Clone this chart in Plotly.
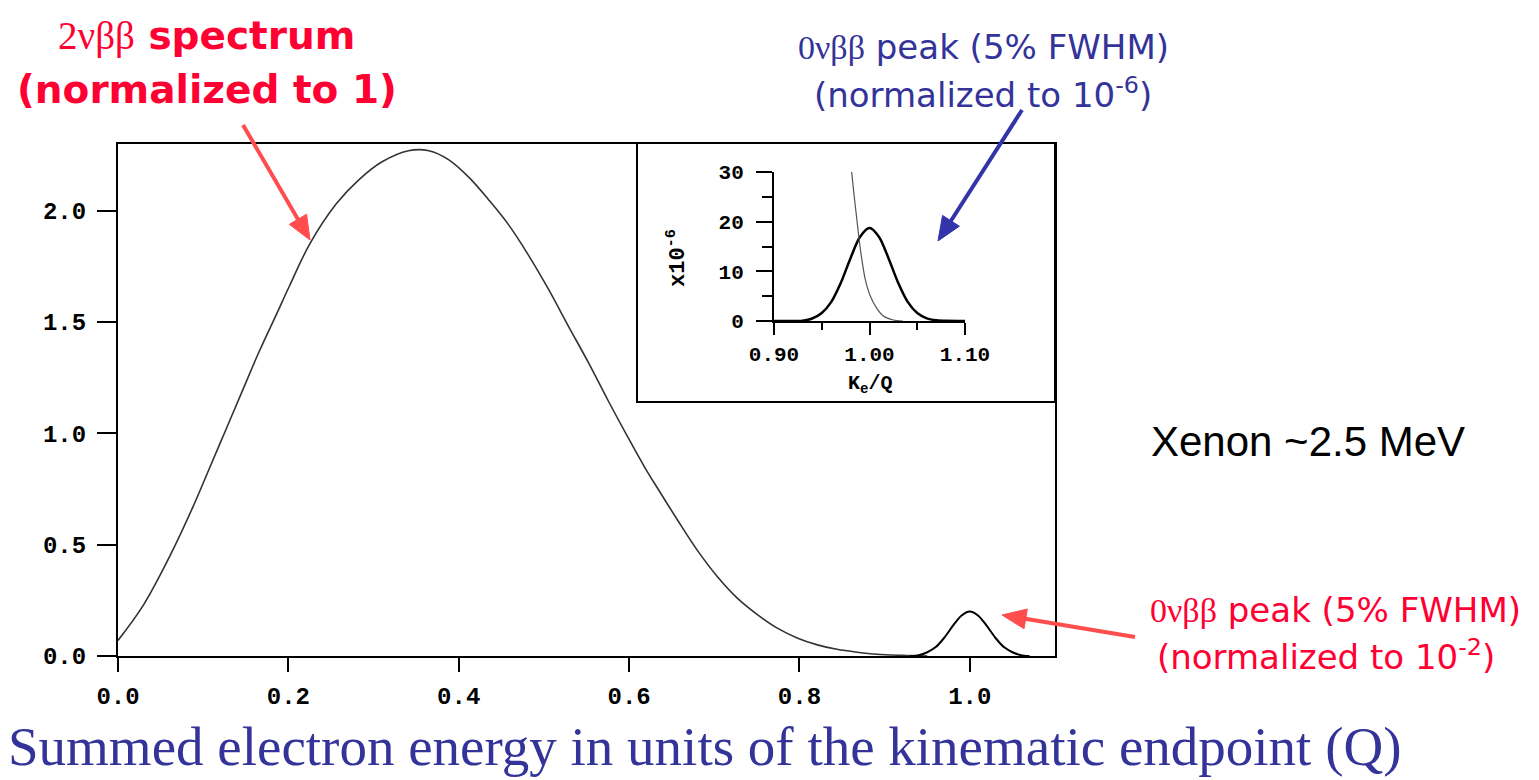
import math
import plotly.graph_objects as go

# page body has an 8px default margin; the figure is sized/placed to compensate
OFF = 8
W, H = 1539 - OFF, 780 - OFF

# ---------------- data ----------------
spec_x = [0.0, 0.03, 0.061, 0.088, 0.107, 0.127, 0.147, 0.166, 0.186, 0.201, 0.225, 0.256,
          0.283, 0.31, 0.341, 0.365, 0.388, 0.412, 0.435, 0.458, 0.482, 0.505, 0.529, 0.552,
          0.575, 0.599, 0.618, 0.634, 0.657, 0.681, 0.704, 0.727, 0.751, 0.774, 0.798, 0.821,
          0.844, 0.868, 0.891, 0.92, 0.95]
spec_y = [0.07, 0.23, 0.45, 0.67, 0.84, 1.02, 1.20, 1.37, 1.535, 1.66, 1.85, 2.03,
          2.14, 2.22, 2.27, 2.27, 2.23, 2.15, 2.05, 1.94, 1.80, 1.65, 1.48, 1.32,
          1.15, 0.98, 0.85, 0.75, 0.61, 0.47, 0.355, 0.26, 0.185, 0.125, 0.08, 0.05,
          0.03, 0.017, 0.008, 0.003, 0.0]

peak_x = [0.93, 0.94, 0.95, 0.96, 0.97, 0.98, 0.99, 1.00, 1.01, 1.02, 1.03, 1.04, 1.05, 1.06, 1.07]
peak_y = [0.0, 0.004, 0.017, 0.04, 0.082, 0.135, 0.181, 0.20, 0.181, 0.135, 0.082, 0.04, 0.017, 0.004, 0.0]

inset_peak_x = [0.90, 0.92, 0.93, 0.94, 0.95, 0.96, 0.97, 0.98, 0.99, 1.00, 1.01, 1.02, 1.03,
                1.04, 1.05, 1.06, 1.07, 1.08, 1.10]
inset_peak_y = [0.0, 0.01, 0.05, 0.5, 1.6, 3.85, 7.7, 12.6, 16.9, 18.7, 16.9, 12.6, 7.7,
                3.85, 1.6, 0.53, 0.15, 0.03, 0.0]

inset_tail_x = [0.9813, 0.9838, 0.9866, 0.9894, 0.9918, 0.9953, 1.0005, 1.0075, 1.0145, 1.025, 1.035]
inset_tail_y = [30.0, 25.4, 20.7, 16.0, 12.6, 8.6, 5.2, 2.6, 1.0, 0.2, 0.0]

main_xticks = [0.0, 0.2, 0.4, 0.6, 0.8, 1.0]
main_yticks = [0.0, 0.5, 1.0, 1.5, 2.0]
inset_xticks = [0.90, 1.00, 1.10]
inset_xticktext = ["0.90", "1.00", "1.10"]
inset_yticks = [0, 10, 20, 30]


def px(x):
    return (x - OFF) / W


def py(y):
    return 1 - (y - OFF) / H


RED = "#ff0033"
RED_ARROW = "#ff4d4d"
BLUE = "#333399"
TICKFONT = dict(family="Liberation Mono", size=24, color="black", weight="bold")
INSET_TICKFONT = dict(family="Liberation Mono", size=21, color="black", weight="bold")

fig = go.Figure()

fig.add_trace(go.Scatter(x=spec_x, y=spec_y, mode="lines",
                         line=dict(color="#333333", width=1.6, shape="spline", smoothing=1.0),
                         xaxis="x", yaxis="y", showlegend=False))
fig.add_trace(go.Scatter(x=peak_x, y=peak_y, mode="lines",
                         line=dict(color="black", width=2, shape="spline", smoothing=0.8),
                         xaxis="x", yaxis="y", showlegend=False))
fig.add_trace(go.Scatter(x=inset_peak_x, y=inset_peak_y, mode="lines",
                         line=dict(color="black", width=2.5, shape="spline", smoothing=0.8),
                         xaxis="x2", yaxis="y2", showlegend=False))
fig.add_trace(go.Scatter(x=inset_tail_x, y=inset_tail_y, mode="lines",
                         line=dict(color="#555555", width=1.2, shape="spline", smoothing=0.6),
                         xaxis="x2", yaxis="y2", showlegend=False))

fig.update_layout(
    width=W, height=H,
    margin=dict(l=0, r=0, t=0, b=0, autoexpand=False),
    paper_bgcolor="white", plot_bgcolor="white",
    xaxis=dict(domain=[px(118), px(1055)], range=[0, 1.1], showgrid=False, zeroline=False,
               automargin=False,
               showline=True, linecolor="black", linewidth=2, mirror=True,
               ticks="outside", ticklen=14, tickwidth=2, tickcolor="black",
               tickvals=main_xticks, tickformat=".1f", tickfont=TICKFONT, ticklabelstandoff=3),
    yaxis=dict(domain=[py(656), py(144)], range=[0, 2.3], showgrid=False, zeroline=False,
               automargin=False,
               showline=True, linecolor="black", linewidth=2, mirror=True,
               ticks="outside", ticklen=19, tickwidth=2, tickcolor="black",
               tickvals=main_yticks, tickformat=".1f", tickfont=TICKFONT, ticklabelstandoff=6),
    xaxis2=dict(domain=[px(774), px(965)], range=[0.90, 1.10], anchor="y2", showgrid=False, zeroline=False,
                automargin=False,
                showline=True, linecolor="black", linewidth=2,
                ticks="outside", ticklen=12, tickwidth=2, tickcolor="black",
                tickvals=inset_xticks, ticktext=inset_xticktext, tickfont=INSET_TICKFONT,
                ticklabelstandoff=1,
                minor=dict(tickvals=[0.95, 1.05], ticks="outside", ticklen=7, tickwidth=2, tickcolor="black")),
    yaxis2=dict(domain=[py(321), py(172)], range=[0, 30], anchor="x2", showgrid=False, zeroline=False,
                automargin=False,
                showline=True, linecolor="black", linewidth=2,
                ticks="outside", ticklen=16, tickwidth=2, tickcolor="black",
                tickvals=inset_yticks, tickfont=INSET_TICKFONT, ticklabelstandoff=8,
                minor=dict(tickvals=[5, 15, 25], ticks="outside", ticklen=10, tickwidth=2, tickcolor="black")),
)

# inset frame
fig.add_shape(type="rect", xref="paper", yref="paper", x0=px(637), x1=px(1055), y0=py(402), y1=py(143),
              line=dict(color="black", width=2), fillcolor="rgba(0,0,0,0)", layer="above")


def arrow(hx, hy, tx, ty, color, head_len=24, head_w=20):
    dx, dy = hx - tx, hy - ty
    L = math.hypot(dx, dy)
    ux, uy = dx / L, dy / L
    bx, by = hx - head_len * ux, hy - head_len * uy
    nx, ny = -uy, ux
    fig.add_shape(type="line", xref="paper", yref="paper",
                  x0=px(tx), y0=py(ty), x1=px(bx + 2 * ux), y1=py(by + 2 * uy),
                  line=dict(color=color, width=4))
    p1 = (bx + nx * head_w / 2, by + ny * head_w / 2)
    p2 = (bx - nx * head_w / 2, by - ny * head_w / 2)
    path = "M {:.5f} {:.5f} L {:.5f} {:.5f} L {:.5f} {:.5f} Z".format(
        px(hx), py(hy), px(p1[0]), py(p1[1]), px(p2[0]), py(p2[1]))
    fig.add_shape(type="path", xref="paper", yref="paper", path=path,
                  fillcolor=color, line=dict(color=color, width=1))


arrow(310, 240, 243, 125, RED_ARROW)
arrow(938, 241, 1022, 110, "#3333aa")
arrow(1002, 615, 1135, 637, RED_ARROW)

ann = []


def text(x, y, s, size, color, family, weight="normal", angle=0):
    ann.append(dict(x=px(x), y=py(y), xref="paper", yref="paper", text=s, showarrow=False,
                    xanchor="center", yanchor="middle", textangle=angle,
                    font=dict(size=size, color=color, family=family, weight=weight)))


SER = "<span style='font-family:Liberation Serif;font-weight:normal'>%s</span>"

text(207, 35, (SER % "2νββ") + " spectrum", 39, RED, "DejaVu Sans", "bold")
text(207, 89, "(normalized to 1)", 39, RED, "DejaVu Sans", "bold")

text(983, 47, (SER % "0νββ") + " peak (5% FWHM)", 34, BLUE, "DejaVu Sans")
text(983, 93, "(normalized to 10<sup>-6</sup>)", 34, BLUE, "DejaVu Sans")

text(1335, 610, (SER % "0νββ") + " peak (5% FWHM)", 34, RED, "DejaVu Sans")
text(1326, 655, "(normalized to 10<sup>-2</sup>)", 34, RED, "DejaVu Sans")

text(1308, 441, "Xenon ~2.5 MeV", 42, "black", "Liberation Sans")

text(705, 746, "Summed electron energy in units of the kinematic endpoint (Q)", 55, BLUE, "Liberation Serif")

text(870, 385, "K<sub>e</sub>/Q", 20, "black", "Liberation Mono", "bold")
text(676, 258, "x10<sup>-6</sup>", 22, "black", "Liberation Mono", "bold", angle=-90)

fig.update_layout(annotations=ann)

fig.write_html("out.html")
